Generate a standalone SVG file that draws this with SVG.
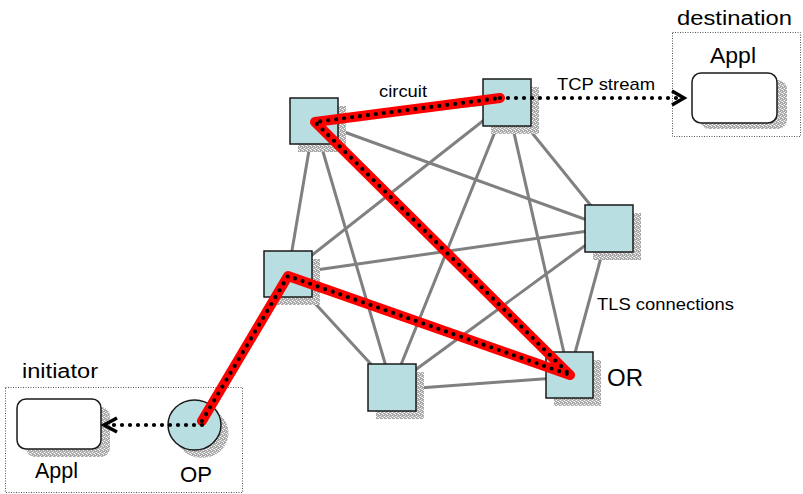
<svg xmlns="http://www.w3.org/2000/svg" width="803" height="494" viewBox="0 0 803 494">
<defs>
<pattern id="speck" width="4" height="4" patternUnits="userSpaceOnUse">
<rect width="4" height="4" fill="#a8a8a8"/>
<rect x="0" y="0" width="1" height="1" fill="#fff"/>
<rect x="2" y="1" width="1" height="1" fill="#fff"/>
<rect x="1" y="3" width="1" height="1" fill="#e0e0e0"/>
<rect x="3" y="2" width="1" height="1" fill="#fff"/>
<rect x="1" y="1" width="1" height="1" fill="#d0d0d0"/>
<rect x="3" y="0" width="1" height="1" fill="#c8c8c8"/>
</pattern>
</defs>
<style>
.txt{font-family:"Liberation Sans",Arial,sans-serif;fill:#000}
.mesh line{stroke:#808080;stroke-width:3}
.node{fill:#b9dee1;stroke:#1a1a1a;stroke-width:1.5}
.shadow{fill:url(#speck)}
.box{fill:none;stroke:#555;stroke-width:1;stroke-dasharray:1 1.5}
.appl{fill:#fff;stroke:#1a1a1a;stroke-width:1.5}
.red{fill:none;stroke:#ff0000;stroke-width:10;stroke-linejoin:round;stroke-linecap:round}
.dots{fill:none;stroke:#000;stroke-width:4.2;stroke-linecap:round;stroke-dasharray:0 8;stroke-linejoin:round}
.chev{fill:none;stroke:#000;stroke-width:3.5;stroke-linejoin:miter}
</style>
<rect width="803" height="494" fill="#fff"/>

<g id="destination">
<rect class="box" x="672.5" y="32.5" width="128" height="104"/>
<text class="txt" x="677" y="25" font-size="20" textLength="115" lengthAdjust="spacingAndGlyphs">destination</text>
<text class="txt" x="710" y="63" font-size="22" textLength="46" lengthAdjust="spacingAndGlyphs">Appl</text>
<rect class="shadow" x="700" y="80" width="87" height="49" rx="9"/>
<rect class="appl" x="692" y="73" width="85" height="50" rx="9"/>
</g>

<g id="initiator">
<rect class="box" x="5.5" y="387.5" width="237" height="105"/>
<text class="txt" x="22" y="378" font-size="20" textLength="76" lengthAdjust="spacingAndGlyphs">initiator</text>
<rect class="shadow" x="26" y="407" width="84" height="50" rx="9"/>
<rect class="appl" x="17" y="399" width="84" height="50" rx="9"/>
<text class="txt" x="35" y="478" font-size="22" textLength="43" lengthAdjust="spacingAndGlyphs">Appl</text>
</g>

<g id="connectors" class="mesh">
<line x1="314" y1="121" x2="609" y2="228"/>
<line x1="314" y1="121" x2="288" y2="274"/>
<line x1="314" y1="121" x2="392" y2="387"/>
<line x1="314" y1="121" x2="569" y2="375"/>
<line x1="314" y1="121" x2="507" y2="102"/>
<line x1="507" y1="102" x2="609" y2="228"/>
<line x1="507" y1="102" x2="288" y2="274"/>
<line x1="507" y1="102" x2="392" y2="387"/>
<line x1="507" y1="102" x2="569" y2="375"/>
<line x1="609" y1="228" x2="288" y2="274"/>
<line x1="609" y1="228" x2="392" y2="387"/>
<line x1="609" y1="228" x2="569" y2="375"/>
<line x1="288" y1="274" x2="392" y2="387"/>
<line x1="288" y1="274" x2="569" y2="375"/>
<line x1="392" y1="390" x2="569" y2="377"/>
</g>

<g id="nodeA">
<rect class="shadow" x="298" y="106" width="48" height="46"/>
<rect class="node" x="290" y="98" width="48" height="46"/>
</g>
<g id="nodeB">
<rect class="shadow" x="491" y="87" width="48" height="47"/>
<rect class="node" x="483" y="79" width="48" height="47"/>
</g>
<g id="nodeC">
<rect class="shadow" x="593" y="213" width="48" height="47"/>
<rect class="node" x="585" y="205" width="48" height="47"/>
</g>
<g id="nodeD">
<rect class="shadow" x="272" y="259" width="48" height="46"/>
<rect class="node" x="264" y="251" width="48" height="46"/>
</g>
<g id="nodeE">
<rect class="shadow" x="376" y="372" width="48" height="47"/>
<rect class="node" x="368" y="364" width="48" height="47"/>
</g>
<g id="nodeOR">
<rect class="shadow" x="554" y="360" width="47" height="46"/>
<rect class="node" x="546" y="352" width="47" height="46"/>
<text class="txt" x="607" y="386" font-size="24" textLength="36" lengthAdjust="spacingAndGlyphs">OR</text>
</g>
<g id="nodeOP">
<ellipse class="shadow" cx="202" cy="433" rx="26.5" ry="25"/>
<ellipse class="node" cx="194.5" cy="425" rx="26.5" ry="25"/>
<text class="txt" x="180" y="482" font-size="22" textLength="32" lengthAdjust="spacingAndGlyphs">OP</text>
</g>

<g id="circuit">
<polyline class="red" points="202,421 288,276 570,375 315,122 500,98"/>
<polyline class="dots" points="202,421 288,276 570,375 315,122 500,98"/>
<line class="dots" x1="202" y1="425" x2="110" y2="425"/>
<polyline class="chev" points="117,418 104,425 117,432"/>
<line class="dots" x1="500" y1="98" x2="678" y2="98"/>
<polyline class="chev" points="672,91 684,98 672,105"/>
</g>

<g id="labels">
<text class="txt" x="379" y="97" font-size="16" textLength="48" lengthAdjust="spacingAndGlyphs">circuit</text>
<text class="txt" x="557" y="90" font-size="17" textLength="98" lengthAdjust="spacingAndGlyphs">TCP stream</text>
<text class="txt" x="597" y="310" font-size="17" textLength="137" lengthAdjust="spacingAndGlyphs">TLS connections</text>
</g>
</svg>
